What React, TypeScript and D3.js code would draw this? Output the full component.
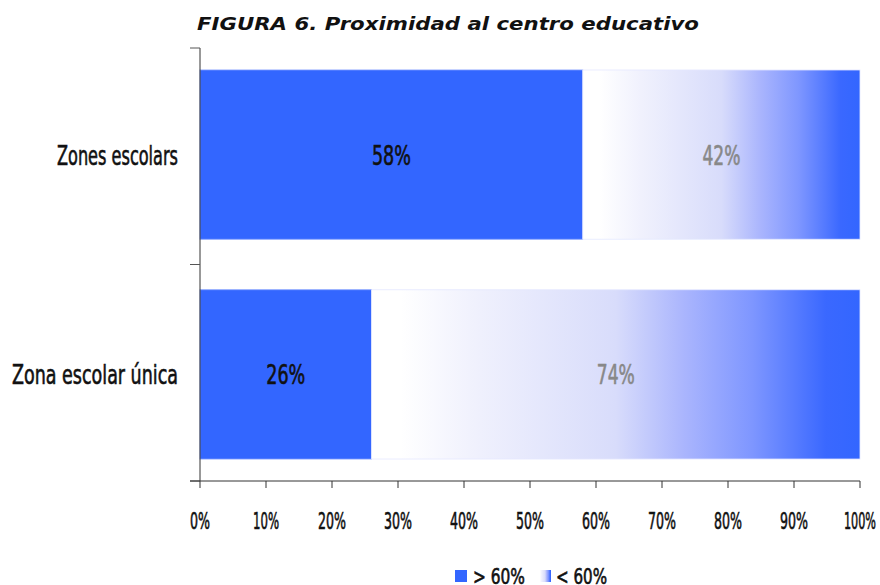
import React from "react";
import * as d3 from "d3";

const categories = ["Zones escolars", "Zona escolar única"];
const above60 = [58, 26];
const below60 = [42, 74];
const xTicks = [0, 10, 20, 30, 40, 50, 60, 70, 80, 90, 100];
const legendLabels = ["> 60%", "< 60%"];

const BLUE = "#3366FF";
const NARROW = "'DejaVu Sans Condensed', 'DejaVu Sans', sans-serif";

function NText(props: any) {
  const { len, children, fill, ...rest } = props;
  return (
    <text
      fontFamily={NARROW}
      fontStretch="condensed"
      textLength={len}
      lengthAdjust="spacingAndGlyphs"
      fill={fill}
      stroke={fill}
      strokeWidth={0.6}
      {...rest}
    >
      {children}
    </text>
  );
}

export default function App() {
  const W = 880, H = 585;
  const left = 200, right = 860, top = 48, bottom = 481;
  const x = d3.scaleLinear().domain([0, 100]).range([left, right]);
  const y = d3.scaleBand().domain(categories).range([top, bottom]).paddingInner(0.23).paddingOuter(0.1);
  const bandEdges = [top, (top + bottom) / 2, bottom];
  const catLen = [121, 166];
  const tickLen = (t: number) => (t === 0 ? 20 : t === 100 ? 32 : t === 10 ? 26 : 28);

  return (
    <svg width={W} height={H} style={{ position: "absolute", left: 0, top: 0, background: "#fff" }}>
      <defs>
        <linearGradient id="grad" x1="0" x2="1" y1="0" y2="0">
          <stop offset="0" stopColor="#ffffff" />
          <stop offset="0.06" stopColor="#ffffff" />
          <stop offset="0.21" stopColor="#f0f1fd" />
          <stop offset="0.5" stopColor="#d8dcfb" />
          <stop offset="0.64" stopColor="#aab5fd" />
          <stop offset="0.78" stopColor="#7e96ff" />
          <stop offset="0.93" stopColor="#3a68ff" />
          <stop offset="1" stopColor={BLUE} />
        </linearGradient>
      </defs>
      <text x={197} y={30} fontFamily="'DejaVu Sans', Verdana, sans-serif" fontWeight="bold" fontStyle="italic" fontSize={18.5} fill="#111" textLength={502} lengthAdjust="spacingAndGlyphs">
        FIGURA 6. Proximidad al centro educativo
      </text>

      {categories.map((c, i) => {
        const y0 = y(c)!;
        const bh = y.bandwidth();
        const a = above60[i], b = below60[i];
        return (
          <g key={c}>
            <rect x={x(0)} y={y0} width={x(a) - x(0)} height={bh} fill={BLUE} stroke="#7f9cff" strokeWidth={0.8} />
            <rect x={x(a)} y={y0} width={x(a + b) - x(a)} height={bh} fill="url(#grad)" stroke="#e4e8ff" strokeWidth={0.8} />
            <NText x={(x(0) + x(a)) / 2} y={y0 + bh / 2 + 10} textAnchor="middle" fontSize={27} fill="#111" len={39}>
              {a}%
            </NText>
            <NText x={(x(a) + x(a + b)) / 2} y={y0 + bh / 2 + 10} textAnchor="middle" fontSize={27} fill="#888" len={38}>
              {b}%
            </NText>
            <NText x={178} y={y0 + bh / 2 + 10} textAnchor="end" fontSize={27} fill="#111" len={catLen[i]}>
              {c}
            </NText>
          </g>
        );
      })}

      {/* y axis */}
      <line x1={left} x2={left} y1={top} y2={bottom} stroke="#333" strokeWidth={1} />
      {bandEdges.map((v, i) => (
        <line key={i} x1={left - 10} x2={left} y1={v} y2={v} stroke="#555" strokeWidth={1} />
      ))}
      {/* x axis */}
      <line x1={left - 10} x2={right} y1={bottom} y2={bottom} stroke="#333" strokeWidth={1} />
      {xTicks.map((t) => (
        <g key={t}>
          <line x1={x(t)} x2={x(t)} y1={bottom} y2={bottom + 7} stroke="#333" strokeWidth={1} />
          <NText x={x(t)} y={bottom + 48} textAnchor="middle" fontSize={23} fill="#111" len={tickLen(t)}>
            {t}%
          </NText>
        </g>
      ))}

      {/* legend */}
      <rect x={455} y={570} width={12} height={12} fill={BLUE} />
      <NText x={473} y={584} fontSize={21} fill="#111" len={52}>{legendLabels[0]}</NText>
      <rect x={539} y={570} width={12} height={12} fill="url(#grad)" />
      <NText x={556} y={584} fontSize={21} fill="#111" len={51}>{legendLabels[1]}</NText>
    </svg>
  );
}
